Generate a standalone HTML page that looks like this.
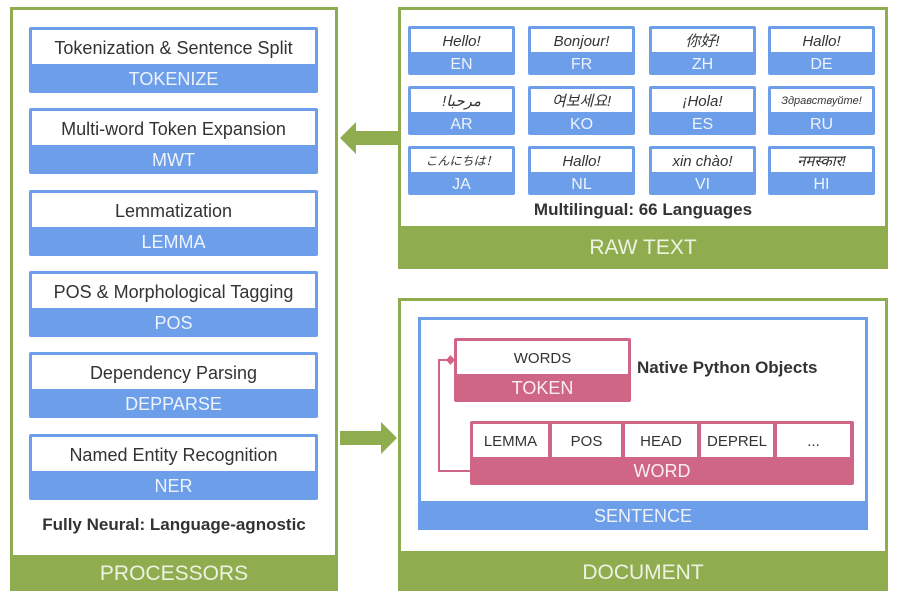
<!DOCTYPE html>
<html><head><style>
*{margin:0;padding:0;box-sizing:border-box}
body{width:897px;height:591px;background:#fff;position:relative;overflow:hidden;font-family:"Liberation Sans","Noto Sans CJK SC",sans-serif;color:#333}
.a{position:absolute}
.panel{position:absolute;border:3px solid #8fad4f;background:#fff}
.foot{position:absolute;left:0;right:0;bottom:0;background:#8fad4f;color:#eef2e2;text-align:center;font-size:21px}
.proc{position:absolute;left:29px;width:289px;height:66px;background:#6d9eea;border-radius:2px}
.proc .w{position:absolute;left:3px;right:3px;top:3px;height:34px;background:#fff;text-align:center;font-size:18px;line-height:36px}
.proc .l{position:absolute;left:0;right:0;top:37px;height:29px;text-align:center;color:#eef3fc;font-size:18px;line-height:31px}
.lang{position:absolute;width:107px;height:49px;background:#6d9eea;border-radius:2px}
.lang .w{position:absolute;left:3px;right:3px;top:3px;height:23px;background:#fff;text-align:center;font-size:15px;font-style:italic;line-height:25px}
.lang .l{position:absolute;left:0;right:0;top:26px;height:23px;text-align:center;color:#eef3fc;font-size:16px;line-height:26px}
.cell{position:absolute;top:3px;height:33px;background:#fff;text-align:center;font-size:15px;line-height:35px}
</style></head><body>

<div class="panel" style="left:10px;top:7px;width:328px;height:584px;border-bottom:0">
<div class="foot" style="height:36px;line-height:38px">PROCESSORS</div>
</div>
<div class="proc" style="top:27px"><div class="w">Tokenization &amp; Sentence Split</div><div class="l">TOKENIZE</div></div>
<div class="proc" style="top:108px"><div class="w">Multi-word Token Expansion</div><div class="l">MWT</div></div>
<div class="proc" style="top:190px"><div class="w">Lemmatization</div><div class="l">LEMMA</div></div>
<div class="proc" style="top:271px"><div class="w">POS &amp; Morphological Tagging</div><div class="l">POS</div></div>
<div class="proc" style="top:352px"><div class="w">Dependency Parsing</div><div class="l">DEPPARSE</div></div>
<div class="proc" style="top:434px"><div class="w">Named Entity Recognition</div><div class="l">NER</div></div>
<div class="a" style="left:10px;width:328px;top:515px;text-align:center;font-weight:bold;font-size:17px">Fully Neural: Language-agnostic</div>

<div class="panel" style="left:398px;top:7px;width:490px;height:262px">
<div class="foot" style="height:40px;line-height:44px">RAW TEXT</div>
</div>
<div class="lang" style="left:408px;top:26px"><div class="w">Hello!</div><div class="l">EN</div></div>
<div class="lang" style="left:528px;top:26px"><div class="w">Bonjour!</div><div class="l">FR</div></div>
<div class="lang" style="left:649px;top:26px"><div class="w">你好!</div><div class="l">ZH</div></div>
<div class="lang" style="left:768px;top:26px"><div class="w">Hallo!</div><div class="l">DE</div></div>
<div class="lang" style="left:408px;top:86px"><div class="w">!مرحبا</div><div class="l">AR</div></div>
<div class="lang" style="left:528px;top:86px"><div class="w">여보세요!</div><div class="l">KO</div></div>
<div class="lang" style="left:649px;top:86px"><div class="w">¡Hola!</div><div class="l">ES</div></div>
<div class="lang" style="left:768px;top:86px"><div class="w" style="font-size:11px">Здравствуйте!</div><div class="l">RU</div></div>
<div class="lang" style="left:408px;top:146px"><div class="w" style="font-size:12px">こんにちは！</div><div class="l">JA</div></div>
<div class="lang" style="left:528px;top:146px"><div class="w">Hallo!</div><div class="l">NL</div></div>
<div class="lang" style="left:649px;top:146px"><div class="w">xin chào!</div><div class="l">VI</div></div>
<div class="lang" style="left:768px;top:146px"><div class="w">नमस्कार!</div><div class="l">HI</div></div>
<div class="a" style="left:398px;width:490px;top:200px;text-align:center;font-weight:bold;font-size:17px">Multilingual: 66 Languages</div>

<svg class="a" style="left:336px;top:115px" width="64" height="350">
<polygon points="4,23 20,7 20,16 62,16 62,30 20,30 20,39" fill="#8fad4f"/>
<polygon points="4,316 45,316 45,307 61,323 45,339 45,330 4,330" fill="#8fad4f"/>
</svg>

<div class="panel" style="left:398px;top:298px;width:490px;height:293px;border-bottom:0">
<div class="foot" style="height:40px;line-height:44px">DOCUMENT</div>
</div>
<div class="a" style="left:418px;top:317px;width:450px;height:213px;border:3px solid #6d9eea;background:#fff"></div>
<div class="a" style="left:418px;top:501px;width:450px;height:29px;background:#6d9eea;color:#eef3fc;text-align:center;font-size:18px;line-height:31px">SENTENCE</div>

<div class="a" style="left:454px;top:338px;width:177px;height:64px;background:#cf6685;border-radius:2px">
<div class="a" style="left:3px;right:3px;top:3px;height:33px;background:#fff;text-align:center;font-size:15px;line-height:35px">WORDS</div>
<div class="a" style="left:0;right:0;top:36px;height:28px;text-align:center;color:#fbeef2;font-size:18px;line-height:29px">TOKEN</div>
</div>
<div class="a" style="left:637px;top:358px;font-weight:bold;font-size:17px">Native Python Objects</div>

<div class="a" style="left:470px;top:421px;width:384px;height:64px;background:#cf6685;border-radius:2px">
<div class="cell" style="left:3px;width:75px">LEMMA</div>
<div class="cell" style="left:82px;width:69px">POS</div>
<div class="cell" style="left:155px;width:72px">HEAD</div>
<div class="cell" style="left:231px;width:72px">DEPREL</div>
<div class="cell" style="left:307px;width:73px">...</div>
<div class="a" style="left:0;right:0;top:36px;height:28px;text-align:center;color:#fbeef2;font-size:18px;line-height:29px">WORD</div>
</div>

<svg class="a" style="left:430px;top:350px" width="50" height="130">
<polyline points="40,121 9,121 9,10 18,10" fill="none" stroke="#cf6685" stroke-width="2"/>
<polygon points="16,10 20.5,5 25,10 20.5,15" fill="#cf6685"/>
</svg>
</body></html>
